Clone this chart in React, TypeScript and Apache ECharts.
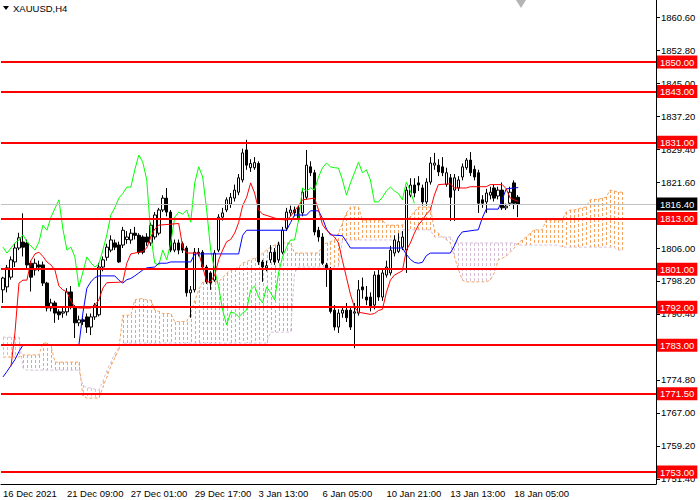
import { useEffect, useRef } from "react";
import * as echarts from "echarts";

const FONT = '"Liberation Sans", Arial, sans-serif';

// time axis: one label every 16 H4 bars
const timeLabels = [
  "16 Dec 2021",
  "21 Dec 09:00",
  "27 Dec 01:00",
  "29 Dec 17:00",
  "3 Jan 13:00",
  "6 Jan 05:00",
  "10 Jan 21:00",
  "13 Jan 13:00",
  "18 Jan 05:00",
];
const labelStep = 16;
const slotCount = 164; // bars + chart shift space

const priceMin = 1750.17;
const priceMax = 1864.67;
const priceTicks = [
  1751.4, 1759.2, 1767.0, 1774.8, 1782.6, 1790.4, 1798.2, 1806.0, 1813.8,
  1821.6, 1829.4, 1837.2, 1845.0, 1852.8, 1860.6,
];

// support / resistance levels
const levels = [1850, 1843, 1831, 1813, 1801, 1792, 1783, 1771.5, 1753];
const lastPrice = 1816.4;

// [open, close, low, high]
const candles = [
  [1796.1, 1798.9, 1793.0, 1799.2], [1796.8, 1801.3, 1795.5, 1802.0], [1799.1, 1803.2, 1798.5, 1804.0],
  [1802.7, 1806.0, 1801.5, 1807.2], [1806.0, 1808.4, 1805.5, 1809.6], [1807.4, 1806.2, 1804.0, 1814.2],
  [1807.2, 1802.0, 1801.0, 1808.0], [1802.4, 1799.1, 1795.7, 1803.0], [1800.8, 1802.4, 1799.5, 1803.5],
  [1802.0, 1801.5, 1800.5, 1803.0], [1802.0, 1797.7, 1797.0, 1802.8], [1797.7, 1791.8, 1791.0, 1798.0],
  [1791.8, 1793.0, 1791.0, 1794.0], [1793.0, 1790.6, 1788.3, 1793.5], [1790.9, 1790.2, 1789.0, 1791.5],
  [1790.6, 1790.9, 1789.5, 1792.0], [1790.9, 1795.6, 1790.0, 1796.5], [1795.6, 1792.0, 1791.5, 1797.0],
  [1791.8, 1788.3, 1784.7, 1792.5], [1788.3, 1789.0, 1787.5, 1790.0], [1789.0, 1788.6, 1787.8, 1789.5],
  [1789.7, 1787.3, 1785.9, 1790.5], [1787.3, 1789.7, 1785.4, 1790.5], [1789.7, 1792.5, 1789.0, 1793.0],
  [1790.2, 1801.5, 1789.8, 1802.5], [1801.5, 1803.2, 1800.5, 1804.0], [1803.8, 1806.2, 1803.0, 1807.0],
  [1805.5, 1807.9, 1805.0, 1809.0], [1807.2, 1806.2, 1805.5, 1808.0], [1806.7, 1802.7, 1802.5, 1807.5],
  [1806.7, 1810.2, 1806.0, 1811.0], [1808.0, 1808.6, 1807.0, 1810.0], [1807.9, 1809.5, 1807.0, 1810.5],
  [1809.5, 1809.0, 1808.0, 1811.0], [1809.0, 1805.0, 1804.5, 1809.5], [1808.6, 1805.0, 1804.5, 1809.0],
  [1808.6, 1807.4, 1806.5, 1809.5], [1807.2, 1811.4, 1806.5, 1812.0], [1808.6, 1813.8, 1808.0, 1814.5],
  [1809.5, 1815.0, 1809.0, 1815.5], [1815.0, 1817.8, 1814.5, 1818.5], [1817.8, 1814.5, 1813.5, 1820.2],
  [1814.5, 1805.5, 1805.0, 1815.0], [1805.5, 1807.2, 1805.0, 1808.0], [1807.2, 1805.5, 1804.5, 1808.0],
  [1807.0, 1805.5, 1804.8, 1807.5], [1806.0, 1795.4, 1794.5, 1806.5], [1795.4, 1796.1, 1789.5, 1797.0],
  [1796.1, 1805.0, 1795.5, 1806.0], [1805.0, 1804.8, 1804.0, 1806.0], [1805.0, 1801.5, 1801.0, 1805.5],
  [1801.5, 1798.0, 1797.5, 1802.0], [1800.1, 1797.7, 1796.1, 1800.5], [1798.4, 1804.8, 1798.0, 1805.5],
  [1805.5, 1813.3, 1805.0, 1814.0], [1813.3, 1814.3, 1812.5, 1815.5], [1815.0, 1817.4, 1814.5, 1818.0],
  [1816.4, 1818.0, 1815.5, 1819.0], [1817.8, 1819.7, 1817.0, 1821.0], [1819.2, 1822.6, 1818.5, 1823.5],
  [1822.1, 1828.5, 1821.5, 1829.5], [1829.2, 1825.6, 1824.5, 1831.6], [1825.0, 1826.0, 1824.0, 1827.0],
  [1825.0, 1826.2, 1824.5, 1827.5], [1826.0, 1802.7, 1802.0, 1826.5], [1802.7, 1801.5, 1798.0, 1803.2],
  [1801.3, 1801.8, 1800.5, 1803.0], [1803.2, 1805.0, 1802.5, 1806.7], [1805.0, 1802.7, 1802.0, 1806.0],
  [1803.2, 1806.7, 1802.5, 1807.5], [1805.0, 1810.2, 1804.5, 1811.0], [1810.7, 1814.5, 1810.0, 1815.5],
  [1814.3, 1815.0, 1813.5, 1816.0], [1815.0, 1814.3, 1813.5, 1815.8], [1815.5, 1813.1, 1812.3, 1816.0],
  [1814.3, 1819.2, 1813.5, 1820.0], [1818.0, 1825.6, 1817.5, 1829.2], [1825.2, 1823.8, 1823.0, 1826.5],
  [1823.8, 1809.8, 1809.0, 1824.5], [1810.2, 1808.6, 1807.5, 1811.0], [1808.6, 1802.4, 1802.0, 1809.5],
  [1802.0, 1801.3, 1796.8, 1802.5], [1800.8, 1791.0, 1790.5, 1801.5], [1791.3, 1787.3, 1786.5, 1792.5],
  [1787.3, 1790.6, 1785.9, 1791.5], [1790.6, 1791.3, 1789.5, 1792.0], [1791.3, 1789.5, 1788.5, 1793.0],
  [1791.3, 1787.3, 1786.6, 1792.0], [1790.6, 1790.9, 1782.3, 1793.0], [1790.6, 1796.1, 1790.0, 1798.4],
  [1796.8, 1796.1, 1794.0, 1799.0], [1794.4, 1793.7, 1792.5, 1797.0], [1794.4, 1792.0, 1791.0, 1795.5],
  [1792.5, 1799.6, 1791.5, 1800.5], [1799.6, 1794.4, 1793.5, 1801.0], [1794.4, 1800.1, 1793.5, 1801.0],
  [1799.6, 1801.5, 1799.0, 1803.0], [1800.1, 1805.5, 1799.5, 1806.5], [1804.8, 1807.9, 1804.0, 1809.0],
  [1805.2, 1807.5, 1804.8, 1809.5], [1806.2, 1808.6, 1805.5, 1810.0], [1805.5, 1819.7, 1800.1, 1820.5],
  [1818.5, 1820.9, 1818.0, 1822.5], [1820.9, 1819.0, 1818.0, 1822.5], [1821.4, 1820.9, 1819.5, 1823.0],
  [1820.2, 1816.9, 1816.0, 1821.0], [1816.9, 1821.6, 1816.0, 1822.5], [1821.6, 1826.1, 1821.0, 1827.5],
  [1825.6, 1826.1, 1824.5, 1828.5], [1825.6, 1824.0, 1823.0, 1827.0], [1825.2, 1823.8, 1823.0, 1827.5],
  [1821.0, 1823.8, 1820.5, 1825.0], [1822.6, 1818.0, 1812.4, 1823.5], [1819.7, 1822.6, 1812.4, 1823.5],
  [1820.2, 1822.1, 1819.5, 1823.0], [1822.8, 1825.2, 1822.0, 1826.0], [1825.0, 1826.8, 1824.5, 1827.3],
  [1826.8, 1823.8, 1823.0, 1828.7], [1824.6, 1822.8, 1822.0, 1825.5], [1823.8, 1816.6, 1814.3, 1824.5],
  [1817.4, 1816.6, 1815.5, 1818.5], [1816.9, 1819.0, 1814.3, 1820.0], [1818.5, 1819.2, 1817.5, 1820.5],
  [1820.2, 1817.8, 1817.0, 1821.0], [1818.3, 1819.7, 1817.5, 1820.5], [1819.7, 1815.5, 1815.0, 1821.5],
  [1815.5, 1815.9, 1815.0, 1816.5], [1816.6, 1819.2, 1816.0, 1820.5], [1821.4, 1816.6, 1815.2, 1822.0],
  [1818.0, 1816.4, 1813.3, 1818.5],
];

// Ichimoku lines, [bar index, price] at each visible vertex
const tenkan = [
  [2, 1778.0], [3, 1786.0], [4, 1797.7], [5, 1798.4], [6, 1798.4], [7, 1803.0], [8, 1804.6],
  [9, 1805.0], [10, 1804.0], [11, 1802.7], [12, 1802.0], [13, 1800.8], [14, 1797.0], [15, 1796.1],
  [16, 1795.6], [17, 1793.5], [18, 1792.0], [19, 1791.8], [22, 1791.8], [23, 1792.5], [24, 1793.7],
  [25, 1796.5], [26, 1797.8], [29, 1797.9], [30, 1798.0], [31, 1802.4], [32, 1804.6], [35, 1805.2],
  [36, 1806.0], [37, 1808.6], [38, 1810.5], [39, 1811.4], [44, 1811.8], [45, 1806.2], [46, 1804.8],
  [49, 1804.8], [50, 1801.5], [51, 1798.0], [52, 1798.0], [53, 1799.6], [54, 1803.2], [55, 1805.5],
  [56, 1807.5], [57, 1808.0], [58, 1809.5], [59, 1812.0], [60, 1816.0], [61, 1818.0], [62, 1821.4],
  [63, 1819.0], [64, 1815.0], [65, 1814.0], [69, 1812.8], [71, 1812.6], [72, 1813.5], [73, 1814.8],
  [74, 1816.0], [75, 1817.4], [78, 1817.8], [79, 1815.0], [80, 1811.5], [81, 1810.2], [83, 1808.6],
  [84, 1807.2], [85, 1803.0], [86, 1799.0], [87, 1795.0], [88, 1792.0], [89, 1790.8], [92, 1790.3],
  [93, 1790.5], [94, 1791.2], [95, 1791.5], [96, 1795.5], [97, 1798.4], [98, 1799.6], [100, 1800.6],
  [101, 1805.5], [102, 1807.2], [103, 1809.5], [104, 1811.4], [105, 1812.6], [106, 1814.0], [107, 1815.0],
  [108, 1818.5], [109, 1821.0], [112, 1821.2], [113, 1820.2], [116, 1820.2], [117, 1820.5], [121, 1820.5],
  [122, 1821.0], [125, 1821.0], [126, 1820.0], [127, 1817.8], [128, 1817.4], [129, 1817.0],
];

const kijun = [
  [0, 1775.5], [1, 1776.8], [2, 1778.2], [3, 1779.6], [4, 1781.5], [5, 1783.0], [19, 1783.0], [20, 1790.6],
  [21, 1796.5], [22, 1798.0], [23, 1799.0], [24, 1799.4], [28, 1799.4], [29, 1798.4], [30, 1797.7],
  [31, 1798.5], [32, 1798.8], [33, 1799.4], [34, 1800.1], [35, 1800.8], [36, 1801.3], [38, 1801.5],
  [39, 1802.4], [41, 1802.4], [42, 1802.7], [47, 1802.7], [48, 1804.6], [59, 1804.6], [60, 1809.0],
  [61, 1810.2], [71, 1810.2], [72, 1812.0], [73, 1813.8], [76, 1813.8], [77, 1814.8], [79, 1814.8],
  [80, 1813.0], [81, 1810.5], [82, 1809.1], [85, 1808.9], [86, 1807.5], [87, 1806.0], [100, 1806.0],
  [101, 1804.5], [102, 1803.3], [103, 1802.6], [104, 1802.4], [105, 1802.6], [106, 1804.2], [107, 1804.8],
  [112, 1804.8], [113, 1806.5], [114, 1808.6], [115, 1809.8], [118, 1810.2], [119, 1810.3], [120, 1813.1],
  [121, 1815.2], [124, 1815.2], [125, 1817.5], [126, 1820.0], [129, 1820.3],
];

const chikou = [
  [0, 1806.2], [1, 1804.8], [3, 1807.2], [4, 1807.9], [5, 1809.1], [6, 1807.4], [8, 1805.5], [9, 1807.4],
  [10, 1811.4], [11, 1810.2], [12, 1813.3], [14, 1817.4], [15, 1810.5], [16, 1805.5], [17, 1806.2],
  [18, 1803.9], [19, 1796.8], [20, 1800.3], [21, 1803.9], [22, 1802.5], [23, 1801.5], [24, 1802.2],
  [25, 1805.5], [26, 1809.1], [27, 1813.8], [28, 1815.5], [29, 1817.8], [30, 1818.9], [31, 1820.4],
  [32, 1820.4], [33, 1824.5], [34, 1828.0], [35, 1826.3], [36, 1822.1], [37, 1809.0], [38, 1802.4],
  [39, 1802.0], [40, 1805.5], [41, 1803.2], [42, 1807.2], [43, 1813.3], [44, 1814.5], [45, 1814.0],
  [46, 1815.0], [47, 1812.1], [48, 1821.4], [49, 1825.2], [50, 1822.8], [51, 1815.0], [52, 1805.5],
  [53, 1800.8], [54, 1796.8], [55, 1791.3], [56, 1787.8], [57, 1790.8], [58, 1790.6], [59, 1789.7],
  [60, 1790.6], [61, 1791.3], [62, 1796.1], [63, 1797.0], [64, 1794.4], [65, 1793.0], [66, 1796.8],
  [67, 1795.4], [68, 1793.7], [69, 1800.1], [70, 1803.9], [71, 1806.2], [72, 1807.9], [73, 1807.9],
  [74, 1812.6], [75, 1820.2], [76, 1819.5], [77, 1820.2], [78, 1819.7], [79, 1822.8], [80, 1825.0],
  [81, 1826.1], [82, 1825.2], [83, 1825.0], [84, 1824.9], [85, 1822.1], [86, 1818.5], [87, 1821.4],
  [88, 1823.8], [89, 1826.3], [90, 1823.8], [91, 1824.5], [92, 1822.1], [93, 1816.9], [94, 1816.9],
  [95, 1818.0], [96, 1819.5], [97, 1820.4], [98, 1819.5], [99, 1818.9], [100, 1817.4], [101, 1821.6],
  [102, 1819.5], [103, 1816.6],
];

// cloud edges, one value per bar (0..155)
const spanA = [
  1780.2, 1780.2, 1780.2, 1780.2, 1780.2, 1780.7, 1780.7, 1780.7, 1780.7, 1780.7,
  1783.5, 1783.5, 1783.0, 1779.0, 1779.0, 1779.0, 1779.0, 1779.0, 1779.0, 1779.0,
  1771.0, 1770.5, 1770.5, 1770.5, 1770.5, 1773.0, 1775.5, 1778.0, 1780.0, 1782.0,
  1790.1, 1790.1, 1790.1, 1793.7, 1794.0, 1794.0, 1793.7, 1793.7, 1791.3, 1791.0,
  1790.5, 1790.5, 1790.5, 1788.6, 1788.6, 1788.6, 1788.6, 1790.5, 1793.5, 1796.1,
  1798.0, 1798.0, 1798.0, 1798.0, 1798.0, 1799.0, 1800.0, 1800.8, 1801.0, 1801.5,
  1802.4, 1802.8, 1803.2, 1803.6, 1803.9, 1804.8, 1805.5, 1806.2, 1806.7, 1807.2,
  1807.2, 1807.2, 1807.2, 1804.8, 1804.8, 1804.8, 1804.8, 1804.8, 1804.8, 1804.8,
  1806.7, 1807.2, 1807.5, 1807.9, 1809.5, 1812.0, 1814.3, 1815.7, 1815.7, 1815.7,
  1812.6, 1812.6, 1812.6, 1812.6, 1812.6, 1812.6, 1811.4, 1811.4, 1811.4, 1811.4,
  1811.4, 1812.5, 1813.5, 1814.5, 1815.7, 1815.7, 1815.7, 1815.7, 1810.3, 1809.5,
  1808.6, 1808.0, 1807.2, 1804.0, 1801.0, 1798.4, 1798.0, 1798.0, 1798.0, 1798.0,
  1798.0, 1798.0, 1798.4, 1800.1, 1803.2, 1803.6, 1804.0, 1805.0, 1806.0, 1807.2,
  1807.9, 1808.6, 1809.5, 1810.3, 1810.3, 1810.3, 1812.6, 1812.6, 1812.6, 1812.6,
  1812.6, 1814.5, 1815.0, 1815.0, 1815.3, 1815.5, 1815.7, 1817.4, 1817.5, 1817.5,
  1817.8, 1818.0, 1819.7, 1819.5, 1819.2, 1819.2,
];

const spanB = [
  1784.9, 1784.9, 1784.9, 1784.9, 1784.9, 1777.6, 1777.1, 1777.1, 1777.1, 1777.1,
  1777.1, 1777.1, 1777.1, 1777.1, 1777.1, 1777.1, 1777.1, 1777.1, 1777.1, 1777.1,
  1773.6, 1772.9, 1772.9, 1772.6, 1772.4, 1774.5, 1777.0, 1779.0, 1781.0, 1782.5,
  1783.5, 1783.5, 1783.5, 1783.5, 1783.5, 1783.5, 1783.5, 1783.5, 1783.5, 1783.5,
  1783.5, 1783.5, 1783.5, 1783.5, 1783.5, 1783.5, 1783.5, 1783.5, 1783.5, 1783.5,
  1783.5, 1783.5, 1783.5, 1783.5, 1783.5, 1783.5, 1783.5, 1783.5, 1783.5, 1783.5,
  1783.5, 1783.5, 1783.5, 1783.5, 1783.5, 1783.5, 1783.5, 1786.1, 1786.1, 1786.1,
  1786.1, 1786.1, 1786.1, 1800.1, 1801.5, 1801.5, 1801.5, 1801.5, 1801.5, 1801.5,
  1801.5, 1801.5, 1801.5, 1801.5, 1801.5, 1807.9, 1807.9, 1807.9, 1807.9, 1807.9,
  1807.9, 1807.9, 1807.9, 1807.9, 1807.9, 1807.9, 1807.9, 1807.9, 1807.9, 1807.9,
  1810.3, 1810.3, 1810.3, 1810.3, 1810.3, 1810.3, 1810.3, 1810.3, 1808.6, 1808.6,
  1808.6, 1808.6, 1808.6, 1807.2, 1807.2, 1807.2, 1807.2, 1807.2, 1807.2, 1807.2,
  1807.2, 1807.2, 1807.2, 1807.2, 1807.2, 1807.2, 1807.2, 1807.2, 1807.2, 1806.7,
  1806.7, 1806.7, 1806.7, 1806.7, 1806.7, 1806.7, 1806.7, 1806.7, 1806.7, 1806.7,
  1806.2, 1806.2, 1806.2, 1806.2, 1806.2, 1806.2, 1806.2, 1806.2, 1806.2, 1806.2,
  1806.2, 1806.2, 1806.2, 1806.2, 1805.5, 1805.5,
];

const SANDY = "#F4A460";
const THISTLE = "#D8BFD8";

export default function App() {
  const chartRef = useRef<HTMLDivElement>(null);

  useEffect(() => {
    if (!chartRef.current) return;
    const chart = echarts.init(chartRef.current, undefined, { renderer: "svg" });

    const slots = Array.from({ length: slotCount }, (_, i) => String(i));
    const cloud = spanA.map((a, i) => [i, a, spanB[i]]);
    const labelFont = { fontFamily: FONT, fontSize: 9.5, color: "#000" };

    chart.setOption({
      animation: false,
      backgroundColor: "#fff",
      grid: { left: 0, top: 0, width: 656, height: 484 },
      xAxis: {
        type: "category",
        data: slots,
        boundaryGap: true,
        axisLine: { lineStyle: { color: "#000", width: 1 } },
        axisTick: {
          interval: (i: number) => i % labelStep === 0,
          length: 5,
          lineStyle: { color: "#000" },
        },
        axisLabel: {
          ...labelFont,
          interval: (i: number) => i % labelStep === 0,
          formatter: (_v: string, i: number) => timeLabels[i / labelStep] ?? "",
          align: "left",
          margin: 4,
        },
        splitLine: { show: false },
      },
      yAxis: {
        type: "value",
        position: "right",
        min: priceMin,
        max: priceMax,
        axisLine: { show: true, lineStyle: { color: "#000", width: 1 } },
        axisTick: { show: true, length: 4, customValues: priceTicks, lineStyle: { color: "#000" } },
        axisLabel: {
          ...labelFont,
          customValues: priceTicks,
          formatter: (v: number) => v.toFixed(2),
          margin: 5,
        },
        splitLine: { show: false },
      },
      graphic: [
        { type: "polygon", shape: { points: [[3, 6], [9, 6], [6, 10]] }, style: { fill: "#000" } },
        {
          type: "text",
          x: 13,
          y: 3,
          style: { text: "XAUUSD,H4", fill: "#000", font: `9.5px ${FONT}` },
        },
        {
          type: "polygon",
          shape: { points: [[516, 0], [526, 0], [521, 8]] },
          style: { fill: "#B4B4B4" },
        },
      ],
      series: [
        {
          // Kumo hatching: a column of short dashes at every bar
          type: "custom",
          silent: true,
          z: 1,
          data: cloud,
          encode: { x: 0, y: [1, 2] },
          renderItem: (_p: any, api: any) => {
            const i = api.value(0);
            const a = api.value(1);
            const b = api.value(2);
            const p1 = api.coord([i, a]);
            const p2 = api.coord([i, b]);
            const x = Math.round(p1[0]);
            const top = Math.round(Math.min(p1[1], p2[1]));
            const bottom = Math.round(Math.max(p1[1], p2[1]));
            const fill = a >= b ? SANDY : THISTLE;
            const children: any[] = [];
            for (let y = top; y < bottom; y += 5) {
              children.push({
                type: "rect",
                shape: { x, y, width: 1, height: Math.min(3, bottom - y) },
                style: { fill },
              });
            }
            return { type: "group", children };
          },
        },
        {
          type: "line",
          data: spanA,
          showSymbol: false,
          silent: true,
          z: 1,
          lineStyle: { color: SANDY, width: 1, type: [3, 2] },
        },
        {
          type: "line",
          data: spanB,
          showSymbol: false,
          silent: true,
          z: 1,
          lineStyle: { color: THISTLE, width: 1, type: [3, 2] },
        },
        {
          type: "candlestick",
          data: candles,
          barWidth: 3,
          silent: true,
          z: 2,
          itemStyle: {
            color: "#fff",
            color0: "#000",
            borderColor: "#000",
            borderColor0: "#000",
            borderWidth: 1,
          },
        },
        {
          type: "line",
          data: chikou,
          showSymbol: false,
          silent: true,
          z: 3,
          lineStyle: { color: "#00FF00", width: 1 },
        },
        {
          type: "line",
          data: kijun,
          showSymbol: false,
          silent: true,
          z: 3,
          lineStyle: { color: "#0000FF", width: 1 },
        },
        {
          type: "line",
          data: tenkan,
          showSymbol: false,
          silent: true,
          z: 3,
          lineStyle: { color: "#FF0000", width: 1 },
        },
        {
          type: "line",
          data: [],
          silent: true,
          z: 4,
          markLine: {
            symbol: "none",
            silent: true,
            data: [{ yAxis: lastPrice }],
            lineStyle: { color: "#C0C0C0", width: 1, type: "solid" },
            label: {
              position: "end",
              distance: 1,
              formatter: (p: any) => Number(p.value).toFixed(2),
              fontFamily: FONT,
              fontSize: 9.5,
              color: "#fff",
              backgroundColor: "#000",
              padding: [1, 3, 0, 3],
              lineHeight: 12,
            },
          },
        },
        {
          type: "line",
          data: [],
          silent: true,
          z: 5,
          markLine: {
            symbol: "none",
            silent: true,
            data: levels.map((v) => ({ yAxis: v })),
            lineStyle: { color: "#FF0000", width: 2, type: "solid" },
            label: {
              position: "end",
              distance: 1,
              formatter: (p: any) => Number(p.value).toFixed(2),
              fontFamily: FONT,
              fontSize: 9.5,
              color: "#fff",
              backgroundColor: "#FF0000",
              padding: [1, 3, 0, 3],
              lineHeight: 12,
            },
          },
        },
      ],
    });

    return () => {
      chart.dispose();
    };
  }, []);

  return (
    <div
      ref={chartRef}
      style={{ position: "fixed", left: 0, top: 0, width: 700, height: 500, background: "#fff" }}
    />
  );
}
